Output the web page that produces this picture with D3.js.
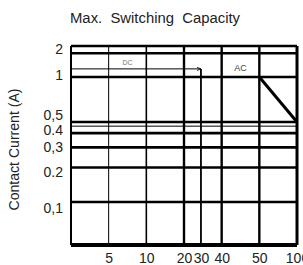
<!DOCTYPE html>
<html>
<head>
<meta charset="utf-8">
<script src="https://cdn.jsdelivr.net/npm/d3@7"></script>
<style>
  body { margin: 0; background: #fff; }
  svg text { font-family: "Liberation Sans", Arial, sans-serif; fill: #222; }
</style>
</head>
<body>
<svg id="chart" width="303" height="265"></svg>
<script>
// axis ticks
const voltTicks = [5, 10, 20, 30, 40, 50, 100];
const voltLabels = ["5", "10", "20", "30", "40", "50", "100"];
const currentTicks = [2, 1, 0.5, 0.4, 0.3, 0.2, 0.1];
const currentLabels = ["2", "1", "0,5", "0.4", "0,3", "0.2", "0,1"];

// grid
const heavyVolts = [20, 40, 50];
const lightVolts = [5, 10];
const heavyCurrents = [2, 1.7, 1, 0.5, 0.4, 0.3, 0.2, 0.1];
const lightCurrents = [0.46];

// DC limit (goes down at 30 V) and AC limit (50 VA)
const dcVolts = [0, 30, 30];
const dcAmps = [1.2, 1.2, 0.042];
const acVolts = [50, 100];
const acAmps = [1, 0.5];

const margin = {top: 46, right: 6, bottom: 20, left: 71};
const svg = d3.select("#chart");
const width = +svg.attr("width") - margin.left - margin.right;
const height = +svg.attr("height") - margin.top - margin.bottom;

// uneven datasheet spacing: equal steps, 30 squeezed between 20 and 40
const x = d3.scaleLinear()
  .domain([0, 5, 10, 20, 30, 40, 50, 100])
  .range([0, 1, 2, 3, 3.45, 4, 5, 6].map(k => k * width / 6));

const y = d3.scaleLog()
  .domain([0.042, 0.5, 1, 2])
  .range([1, 0.382, 0.156, 0].map(f => f * height));

const g = svg.append("g").attr("transform", `translate(${margin.left},${margin.top})`);

svg.append("defs").append("marker")
  .attr("id", "arrow")
  .attr("viewBox", "0 0 6 6")
  .attr("refX", 5).attr("refY", 3)
  .attr("markerWidth", 5).attr("markerHeight", 5)
  .attr("orient", "auto")
  .append("path")
  .attr("d", "M0,1 L5,3 L0,5")
  .attr("fill", "none")
  .attr("stroke", "#111");

// horizontal lines
g.selectAll(".hheavy").data(heavyCurrents).enter().append("line")
  .attr("x1", 0).attr("x2", width)
  .attr("y1", d => y(d)).attr("y2", d => y(d))
  .attr("stroke", "#000").attr("stroke-width", 2.6);

g.selectAll(".hlight").data(lightCurrents).enter().append("line")
  .attr("x1", 0).attr("x2", width)
  .attr("y1", d => y(d)).attr("y2", d => y(d))
  .attr("stroke", "#000").attr("stroke-width", 1);

// vertical lines
g.selectAll(".vheavy").data(heavyVolts).enter().append("line")
  .attr("x1", d => x(d)).attr("x2", d => x(d))
  .attr("y1", 0).attr("y2", height)
  .attr("stroke", "#000").attr("stroke-width", 2.4);

g.selectAll(".vlight").data(lightVolts).enter().append("line")
  .attr("x1", d => x(d)).attr("x2", d => x(d))
  .attr("y1", 0).attr("y2", height)
  .attr("stroke", "#000").attr("stroke-width", (d, i) => i === 0 ? 1 : 1.6);

// DC boundary
const dcLine = d3.line().x(d => x(d[0])).y(d => y(d[1]));
g.append("path")
  .attr("d", dcLine([[dcVolts[0], dcAmps[0]], [dcVolts[1], dcAmps[1]]]))
  .attr("fill", "none").attr("stroke", "#000").attr("stroke-width", 1)
  .attr("marker-end", "url(#arrow)");
g.append("path")
  .attr("d", dcLine([[dcVolts[1], dcAmps[1]], [dcVolts[2], dcAmps[2]]]))
  .attr("fill", "none").attr("stroke", "#000").attr("stroke-width", 1.8);

// AC boundary
g.append("path")
  .attr("d", dcLine(acVolts.map((v, i) => [v, acAmps[i]])))
  .attr("fill", "none").attr("stroke", "#000").attr("stroke-width", 3);

// frame
g.append("line").attr("x1", 0).attr("x2", 0).attr("y1", 0).attr("y2", height)
  .attr("stroke", "#000").attr("stroke-width", 2);
g.append("line").attr("x1", width).attr("x2", width).attr("y1", 0).attr("y2", height)
  .attr("stroke", "#000").attr("stroke-width", 3);
g.append("line").attr("x1", 0).attr("x2", width).attr("y1", height).attr("y2", height)
  .attr("stroke", "#000").attr("stroke-width", 4);

// axes
const nudge = {"0,5": -7, "0.4": -3, "0.2": 5, "0,1": 6, "2": 3, "1": -2};
const yAxis = g.append("g")
  .call(d3.axisLeft(y).tickValues(currentTicks).tickFormat((d, i) => currentLabels[i]).tickSize(0).tickPadding(8));
yAxis.select(".domain").remove();
yAxis.selectAll("text")
  .style("font-size", "14px")
  .attr("y", function() { return nudge[this.textContent] || 0; });

const xAxis = g.append("g")
  .attr("transform", `translate(0,${height})`)
  .call(d3.axisBottom(x).tickValues(voltTicks).tickFormat((d, i) => voltLabels[i]).tickSize(0).tickPadding(8));
xAxis.select(".domain").remove();
xAxis.selectAll("text").style("font-size", "14px");

// region labels
g.append("text")
  .attr("x", (x(5) + x(10)) / 2).attr("y", y(1.3))
  .attr("text-anchor", "middle")
  .style("font-size", "7px").style("fill", "#777")
  .text("DC");
g.append("text")
  .attr("x", (x(40) + x(50)) / 2).attr("y", y(1.15))
  .attr("text-anchor", "middle")
  .style("font-size", "9px").style("fill", "#444")
  .text("AC");

// titles
svg.append("text")
  .attr("x", 155).attr("y", 23)
  .attr("text-anchor", "middle")
  .attr("textLength", 170).attr("lengthAdjust", "spacingAndGlyphs")
  .style("font-size", "14px").style("white-space", "pre")
  .text("Max.  Switching  Capacity");

svg.append("text")
  .attr("transform", `translate(19,${margin.top + height * 0.52}) rotate(-90)`)
  .attr("text-anchor", "middle")
  .attr("textLength", 122).attr("lengthAdjust", "spacingAndGlyphs")
  .style("font-size", "14px")
  .text("Contact Current (A)");
</script>
</body>
</html>
